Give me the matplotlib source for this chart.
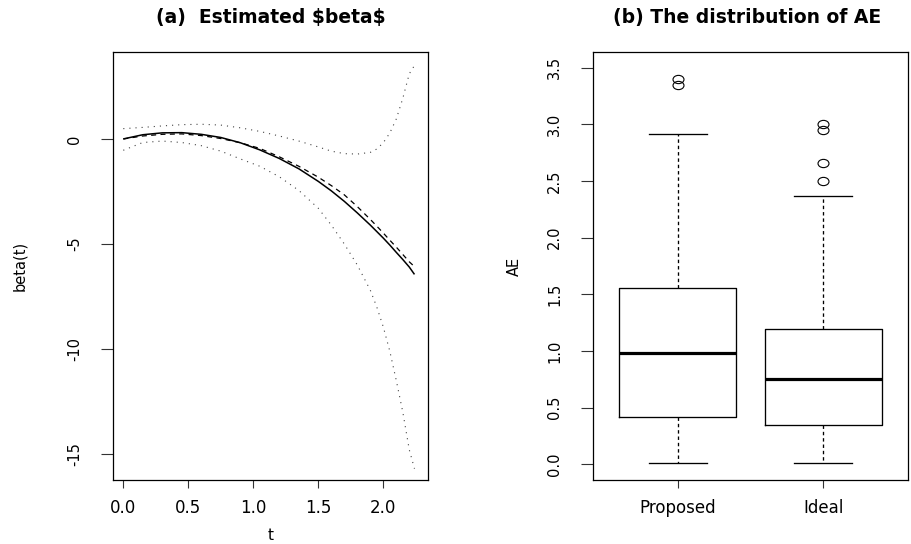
import numpy as np
import matplotlib
matplotlib.use("Agg")
import matplotlib.pyplot as plt
from matplotlib.path import Path
from matplotlib.transforms import Affine2D

# ---------------- data: panel (a) ----------------
t_grid = [0.0, 0.15, 0.3, 0.45, 0.6, 0.75, 0.9, 1.05, 1.2, 1.35, 1.5, 1.6,
          1.7, 1.8, 1.9, 1.95, 2.0, 2.05, 2.1, 2.15, 2.2, 2.24]
beta_est = [0.0, 0.2, 0.29, 0.30, 0.22, 0.07, -0.18, -0.52, -0.93, -1.42, -2.02, -2.47,
            -2.97, -3.52, -4.1, -4.41, -4.72, -5.05, -5.4, -5.74, -6.1, -6.45]
beta_true = [0.0, 0.14, 0.22, 0.24, 0.16, 0.02, -0.18, -0.45, -0.85, -1.3, -1.82, -2.22,
             -2.66, -3.22, -3.83, -4.15, -4.48, -4.82, -5.15, -5.5, -5.85, -6.08]
beta_upper = [0.49, 0.55, 0.62, 0.68, 0.70, 0.66, 0.53, 0.36, 0.14, -0.1, -0.38, -0.58,
              -0.7, -0.72, -0.64, -0.48, -0.18, 0.28, 0.95, 1.93, 3.1, 3.5]
beta_lower = [-0.54, -0.17, -0.1, -0.17, -0.32, -0.58, -0.95, -1.3, -1.8, -2.45, -3.3, -4.1,
              -5.0, -6.0, -7.2, -8.0, -8.95, -10.1, -11.5, -13.0, -14.8, -15.7]

xticks_a = [0.0, 0.5, 1.0, 1.5, 2.0]
xticklabels_a = ["0.0", "0.5", "1.0", "1.5", "2.0"]
yticks_a = [0, -5, -10, -15]
yticklabels_a = ["0", "-5", "-10", "-15"]

# ---------------- data: panel (b) ----------------
groups = ["Proposed", "Ideal"]
whisker_low = [0.01, 0.01]
q1_vals = [0.42, 0.345]
medians = [0.98, 0.755]
q3_vals = [1.555, 1.19]
whisker_high = [2.92, 2.37]
outliers = [[3.35, 3.40], [2.50, 2.66, 2.95, 3.00]]
yticks_b = [0.0, 0.5, 1.0, 1.5, 2.0, 2.5, 3.0, 3.5]
yticklabels_b = ["0.0", "0.5", "1.0", "1.5", "2.0", "2.5", "3.0", "3.5"]

# ---------------- layout helpers ----------------
W, H = 911, 544
PX = 0.72  # points per pixel at dpi 100
FONT = "DejaVu Sans"
plt.rcParams["font.family"] = [FONT]
plt.rcParams["axes.unicode_minus"] = False

fig = plt.figure(figsize=(W / 100, H / 100), dpi=100)
fig.patch.set_facecolor("white")


def fx(px):
    return px / W


def fy(py):
    return 1 - py / H


axA = fig.add_axes([fx(113), fy(480), 315 / W, 428 / H])
axB = fig.add_axes([fx(593), fy(480), 315 / W, 428 / H])

for ax in (axA, axB):
    for s in ax.spines.values():
        s.set_linewidth(0.9)
        s.set_color("black")
    ax.tick_params(axis="x", length=8 * PX, width=0.8, pad=11 * PX, labelsize=12,
                   top=False, color="#333333")
    ax.tick_params(axis="y", length=12 * PX, width=0.8, pad=19 * PX, labelsize=10.5,
                   right=False, color="#333333")

# ---------------- panel (a) ----------------
axA.plot(t_grid, beta_est, color="black", lw=1.1, solid_capstyle="butt")
axA.plot(t_grid, beta_true, color="black", lw=0.9, linestyle=(0, (4, 3.5)))
axA.plot(t_grid, beta_upper, color="#444444", lw=0.8, linestyle=(0, (1, 4.5)))
axA.plot(t_grid, beta_lower, color="#444444", lw=0.8, linestyle=(0, (1, 4.5)))
axA.set_xlim(-0.079, 2.344)
axA.set_ylim(-16.24, 4.14)
axA.set_xticks(xticks_a)
axA.set_xticklabels(xticklabels_a)
axA.set_yticks(yticks_a)
axA.set_yticklabels(yticklabels_a, rotation=90, va="center")

# ---------------- panel (b) ----------------
ell = Affine2D().scale(1.33, 1.0).transform_path(Path.unit_circle())
stats = []
for i in range(len(groups)):
    stats.append(dict(label=groups[i], whislo=whisker_low[i], q1=q1_vals[i],
                      med=medians[i], q3=q3_vals[i], whishi=whisker_high[i],
                      fliers=outliers[i]))
axB.bxp(stats, positions=[1, 2], widths=0.8, showcaps=True,
        boxprops=dict(color="black", lw=0.95),
        whiskerprops=dict(color="black", lw=0.95, linestyle=(0, (2.6, 2.2))),
        capprops=dict(color="black", lw=0.95),
        medianprops=dict(color="black", lw=2.3, solid_capstyle="butt"),
        flierprops=dict(marker=ell, markersize=7.9, markerfacecolor="none",
                        markeredgecolor="black", markeredgewidth=0.8,
                        linestyle="none"))
axB.set_xlim(0.418, 2.582)
axB.set_ylim(-0.14, 3.64)
axB.set_xticks([1, 2])
axB.set_xticklabels(groups)
axB.set_yticks(yticks_b)
axB.set_yticklabels(yticklabels_b, rotation=90, va="center")

# ---------------- titles and labels ----------------
fig.text(fx(270.5), fy(17), "(a)  Estimated $beta$", ha="center", va="center",
         fontsize=13.5, fontweight="bold", parse_math=False)
fig.text(fx(747), fy(17), "(b) The distribution of AE", ha="center", va="center",
         fontsize=13.5, fontweight="bold", parse_math=False)
fig.text(fx(270.5), fy(536), "t", ha="center", va="center", fontsize=11)
fig.text(fx(20), fy(266), "beta(t)", ha="center", va="center", rotation=90,
         fontsize=10.5)
fig.text(fx(514), fy(266), "AE", ha="center", va="center", rotation=90,
         fontsize=10.5)

fig.savefig("out.png", dpi=100)
